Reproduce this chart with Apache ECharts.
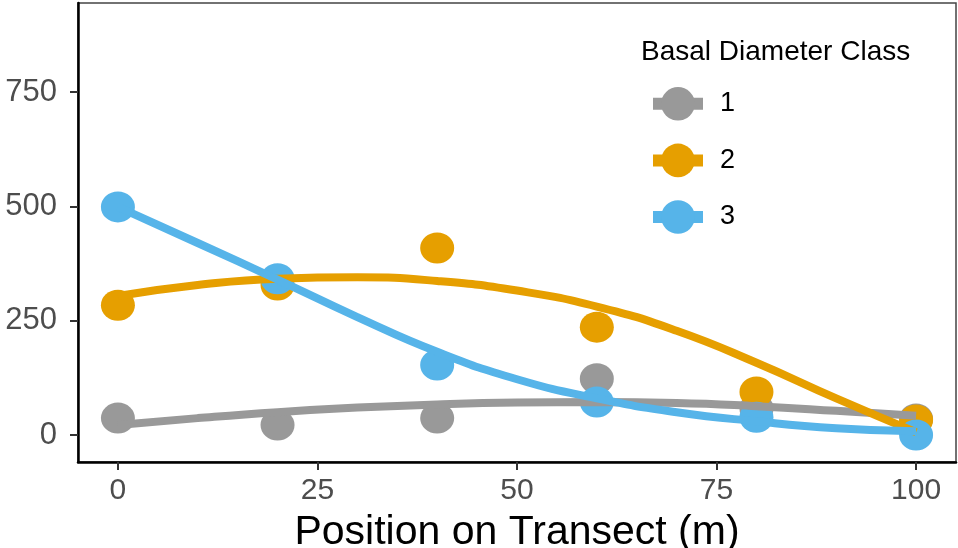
<!DOCTYPE html>
<html>
<head>
<meta charset="utf-8">
<script src="https://cdn.jsdelivr.net/npm/echarts@6/dist/echarts.min.js"></script>
<style>
  html, body { margin: 0; padding: 0; background: #fff; }
  #chart { width: 958px; height: 548px; }
</style>
</head>
<body>
<div id="chart"></div>
<script>
// Transect positions (m) where stems were counted
const positions = [0, 20, 40, 60, 80, 100];

// Observed counts per basal diameter class
const class1Counts = [37, 22, 37, 123, 58, 35];
const class2Counts = [284, 328, 409, 236, 94, 33];
const class3Counts = [499, 342, 153, 72, 39, 0];

// Smoothed trend for each class, sampled every 10 m
const trendPositions = [0, 10, 20, 30, 40, 50, 60, 70, 80, 90, 100];
const class1Trend = [22, 37, 50, 60, 67, 71, 72, 70, 63, 53, 42];
const class2Trend = [304, 328, 342, 345, 337, 316, 281, 228, 158, 80, 6];
const class3Trend = [499, 420, 340, 258, 182, 122, 80, 50, 30, 15, 8];

// Axis ticks
const xTicks = [0, 25, 50, 75, 100];
const yTicks = [0, 250, 500, 750];

const classNames = ['1', '2', '3'];
const classColors = ['#999999', '#E69F00', '#56B4E9'];
const countsByClass = [class1Counts, class2Counts, class3Counts];
const trendByClass = [class1Trend, class2Trend, class3Trend];

const FONT = '"Liberation Sans", Arial, sans-serif';

const pairs = (xs, ys) => xs.map((x, i) => [x, ys[i]]);

const lineSeries = classNames.map((name, i) => ({
  name: name,
  type: 'line',
  data: pairs(trendPositions, trendByClass[i]),
  smooth: 0.5,
  symbol: 'circle',
  showSymbol: false,
  z: 3,
  lineStyle: { color: classColors[i], width: 8, cap: 'butt' },
  itemStyle: { color: classColors[i] },
  silent: true
}));

const pointSeries = classNames.map((name, i) => ({
  name: name,
  type: 'scatter',
  data: pairs(positions, countsByClass[i]),
  symbol: 'circle',
  symbolSize: [34, 31],
  z: 2,
  itemStyle: { color: classColors[i], opacity: 1 },
  silent: true
}));

const chart = echarts.init(document.getElementById('chart'), null, { renderer: 'canvas' });

chart.setOption({
  animation: false,
  backgroundColor: '#ffffff',
  textStyle: { fontFamily: FONT },
  title: {
    text: 'Basal Diameter Class',
    left: 641,
    top: 38,
    padding: 0,
    textStyle: { fontFamily: FONT, fontSize: 28, fontWeight: 'normal', color: '#000000' }
  },
  legend: {
    data: classNames,
    orient: 'vertical',
    left: 647,
    top: 87,
    padding: 0,
    itemWidth: 50,
    itemHeight: 42,
    itemGap: 23,
    lineStyle: { width: 12 },
    textStyle: { fontFamily: FONT, fontSize: 27, color: '#000000', padding: [0, 0, 0, 12] },
    selectedMode: false
  },
  grid: {
    left: 78,
    right: 2,
    top: 3,
    bottom: 86,
    outerBoundsMode: 'none',
    show: true,
    borderColor: '#444444',
    borderWidth: 1.5,
    backgroundColor: 'transparent'
  },
  xAxis: {
    type: 'value',
    min: -5,
    max: 105,
    name: 'Position on Transect (m)',
    nameLocation: 'middle',
    nameGap: 50,
    nameTextStyle: { fontFamily: FONT, fontSize: 41, color: '#000000' },
    axisLine: { show: true, onZero: false, lineStyle: { color: '#000000', width: 2.5 } },
    axisTick: { show: true, length: 8, customValues: xTicks, lineStyle: { color: '#333333', width: 2 } },
    axisLabel: { customValues: xTicks, fontFamily: FONT, fontSize: 30, color: '#4d4d4d', margin: 14 },
    splitLine: { show: false }
  },
  yAxis: {
    type: 'value',
    min: -59,
    max: 945,
    axisLine: { show: true, onZero: false, lineStyle: { color: '#000000', width: 2.5 } },
    axisTick: { show: true, length: 8, customValues: yTicks, lineStyle: { color: '#333333', width: 2 } },
    axisLabel: { customValues: yTicks, fontFamily: FONT, fontSize: 31, color: '#4d4d4d', margin: 21 },
    splitLine: { show: false }
  },
  series: lineSeries.concat(pointSeries)
});
</script>
</body>
</html>
